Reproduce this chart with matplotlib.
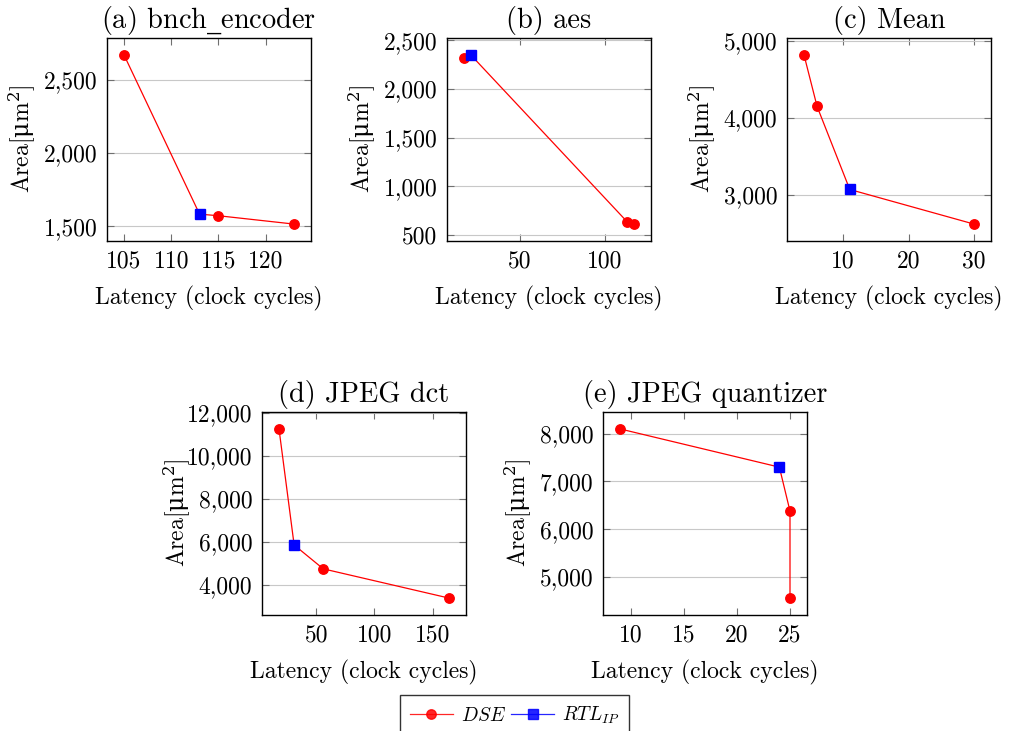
import matplotlib
matplotlib.use('Agg')
import matplotlib.pyplot as plt
from matplotlib.ticker import FuncFormatter
from matplotlib.lines import Line2D

plt.rcParams.update({
    'font.family': ['cmr10', 'DejaVu Serif'],
    'mathtext.fontset': 'cm',
    'axes.formatter.use_mathtext': True,
    'font.size': 17,
})

RED, BLUE = '#ff0000', '#0000ff'

# (latency, area) per benchmark; underscore drawn through mathtext (cmr10 lacks it)
titles = [r'(a) bnch$\_$encoder', '(b) aes', '(c) Mean', '(d) JPEG dct', '(e) JPEG quantizer']

dse_x = [[105, 115, 123], [17, 113, 117], [4, 6, 30], [18, 56, 164], [9, 25, 25]]
dse_y = [[2670, 1572, 1515], [2320, 635, 612], [4820, 4150, 2620],
         [11250, 4740, 3380], [8100, 6380, 4560]]
rtl_x = [113, 21, 11, 31, 24]
rtl_y = [1583, 2350, 3070, 5850, 7300]

xticks = [[105, 110, 115, 120], [50, 100], [10, 20, 30], [50, 100, 150], [10, 15, 20, 25]]
yticks = [[1500, 2000, 2500], [500, 1000, 1500, 2000, 2500], [3000, 4000, 5000],
          [4000, 6000, 8000, 10000, 12000], [5000, 6000, 7000, 8000]]

W, H = 1011, 731
boxes = [(107, 38), (447, 38), (787, 38), (262, 412), (603, 412)]  # left, top in px
AW, AH = 204, 203

fig = plt.figure(figsize=(W / 100, H / 100), dpi=100)

for i in range(5):
    left, top = boxes[i]
    ax = fig.add_axes([left / W, (H - top - AH) / H, AW / W, AH / H])

    # pareto line runs through every point, RTL one included
    pts = sorted(list(zip(dse_x[i], dse_y[i])) + [(rtl_x[i], rtl_y[i])],
                 key=lambda p: (p[0], -p[1]))
    ax.plot([p[0] for p in pts], [p[1] for p in pts], color=RED, lw=0.9, zorder=2)
    ax.plot(dse_x[i], dse_y[i], 'o', color=RED, ms=6.8, zorder=3)
    ax.plot([rtl_x[i]], [rtl_y[i]], 's', color=BLUE, ms=6.8, zorder=4)

    ax.margins(0.1)
    ax.set_xticks(xticks[i])
    ax.set_yticks(yticks[i])
    ax.yaxis.set_major_formatter(FuncFormatter(lambda v, _: f'{v:,.0f}'))
    ax.xaxis.set_major_formatter(FuncFormatter(lambda v, _: f'{v:,.0f}'))
    ax.tick_params(direction='in', length=5, width=0.8, color='#707070',
                   top=True, right=True)
    ax.tick_params(axis='x', pad=7)
    ax.tick_params(axis='y', pad=7)
    ax.grid(True, axis='y', color='#c8c8c8', lw=0.8)
    ax.set_axisbelow(True)
    for s in ax.spines.values():
        s.set_linewidth(1.0)

    t = ax.set_title(titles[i], pad=7)
    t.set_math_fontfamily('dejavuserif')
    ax.set_xlabel('Latency (clock cycles)')
    yl = ax.set_ylabel(r'Area[$\mathrm{\mu}$m$^{2}$]')
    yl.set_math_fontfamily('dejavuserif')
    ax.xaxis.set_label_coords(0.5, -0.22)
    ax.yaxis.set_label_coords(-0.34, 0.5)

handles = [
    Line2D([], [], color=RED, lw=0.9, marker='o', ms=6.8, alpha=0.85),
    Line2D([], [], color=BLUE, lw=0.9, marker='s', ms=6.8, alpha=0.85),
]
fig.legend(handles, ['$DSE$', '$RTL_{IP}$'], loc='upper center',
           bbox_to_anchor=(0.509, 1 - 695 / H), ncol=2, frameon=True,
           fancybox=False, edgecolor='black', borderpad=0.5, borderaxespad=0,
           handlelength=2.2, columnspacing=0.3, handletextpad=0.4,
           fontsize=14)

fig.savefig('out.png', dpi=100)
